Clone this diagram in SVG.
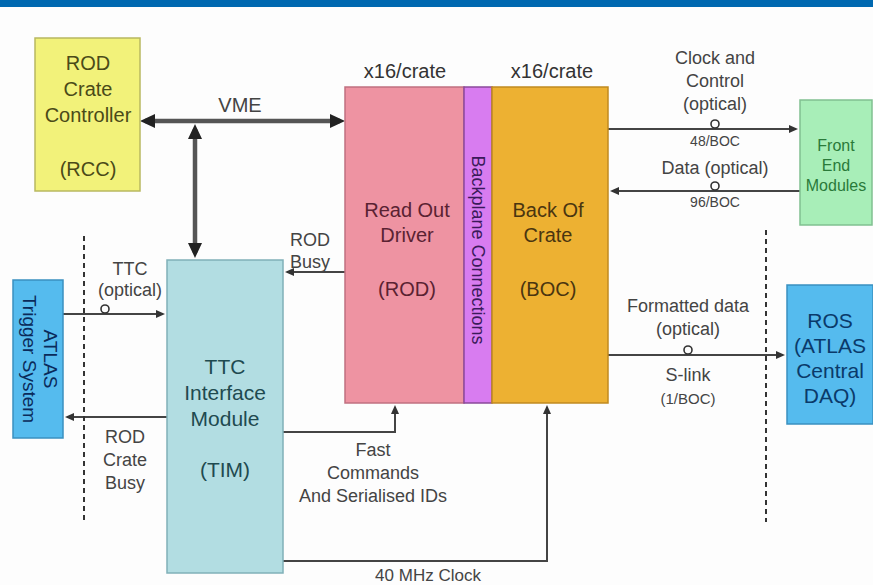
<svg xmlns="http://www.w3.org/2000/svg" width="873" height="585" viewBox="0 0 873 585">
<defs>
<style>
text{font-family:"Liberation Sans",Arial,sans-serif;text-anchor:middle}
.lbl{font-size:18px;fill:#444}
.box{stroke-width:1.5}
.thin{fill:none;stroke:#444;stroke-width:2}
.vme{fill:none;stroke:#555;stroke-width:4.5}
.dash{fill:none;stroke:#333;stroke-width:2;stroke-dasharray:5 4}
.opt{fill:none;stroke:#333;stroke-width:1.6}
</style>
<marker id="sa" markerUnits="userSpaceOnUse" markerWidth="10" markerHeight="8" refX="7" refY="4" orient="auto-start-reverse"><path d="M0,0 L9,4 L0,8 z" fill="#333"/></marker>
<marker id="ba" markerUnits="userSpaceOnUse" markerWidth="16" markerHeight="16" refX="10" refY="8" orient="auto-start-reverse"><path d="M0,1 L15,8 L0,15 z" fill="#222"/></marker>
</defs>
<rect x="0" y="0" width="873" height="585" fill="#fdfdfd"/>
<rect x="0" y="0" width="873" height="7" fill="#0068b0"/>

<g id="connectors">
<line class="vme" x1="145" y1="121" x2="340" y2="121" marker-start="url(#ba)" marker-end="url(#ba)"/>
<line class="vme" x1="195" y1="129" x2="195" y2="253" marker-start="url(#ba)" marker-end="url(#ba)"/>
<line class="thin" x1="608" y1="129" x2="796" y2="129" marker-end="url(#sa)"/>
<line class="thin" x1="800" y1="191" x2="612" y2="191" marker-end="url(#sa)"/>
<line class="thin" x1="608" y1="355" x2="783" y2="355" marker-end="url(#sa)"/>
<line class="thin" x1="63" y1="314" x2="163" y2="314" marker-end="url(#sa)"/>
<line class="thin" x1="167" y1="417" x2="67" y2="417" marker-end="url(#sa)"/>
<line class="thin" x1="345" y1="272" x2="287" y2="272" marker-end="url(#sa)"/>
<polyline class="thin" points="283,432 395,432 395,407" marker-end="url(#sa)"/>
<polyline class="thin" points="283,561 547,561 547,407" marker-end="url(#sa)"/>
<line class="dash" x1="84" y1="236" x2="84" y2="522"/>
<line class="dash" x1="766" y1="230" x2="766" y2="522"/>
<circle class="opt" cx="715" cy="124" r="4"/>
<circle class="opt" cx="715" cy="186" r="4"/>
<circle class="opt" cx="688" cy="350" r="4"/>
<circle class="opt" cx="105" cy="309" r="4"/>
<text class="lbl" x="240" y="112" style="font-size:20px">VME</text>
<text class="lbl" x="715" y="64">Clock and</text>
<text class="lbl" x="715" y="87">Control</text>
<text class="lbl" x="715" y="110">(optical)</text>
<text class="lbl" x="715" y="146" style="font-size:14px">48/BOC</text>
<text class="lbl" x="715" y="174">Data (optical)</text>
<text class="lbl" x="715" y="207" style="font-size:14px">96/BOC</text>
<text class="lbl" x="688" y="312">Formatted data</text>
<text class="lbl" x="688" y="335">(optical)</text>
<text class="lbl" x="688" y="381">S-link</text>
<text class="lbl" x="688" y="404" style="font-size:15px">(1/BOC)</text>
<text class="lbl" x="130" y="275">TTC</text>
<text class="lbl" x="130" y="296">(optical)</text>
<text class="lbl" x="125" y="443">ROD</text>
<text class="lbl" x="125" y="466">Crate</text>
<text class="lbl" x="125" y="489">Busy</text>
<text class="lbl" x="310" y="246">ROD</text>
<text class="lbl" x="310" y="268">Busy</text>
<text class="lbl" x="373" y="456">Fast</text>
<text class="lbl" x="373" y="479">Commands</text>
<text class="lbl" x="373" y="502">And Serialised IDs</text>
<text class="lbl" x="428" y="581" style="font-size:17px">40 MHz Clock</text>
<text class="lbl" x="405" y="78" style="font-size:20px;fill:#333">x16/crate</text>
<text class="lbl" x="552" y="78" style="font-size:20px;fill:#333">x16/crate</text>
</g>

<g id="rcc">
<rect class="box" x="35" y="38" width="105" height="153" fill="#f2f27a" stroke="#b8b860"/>
<g style="font-size:20px;fill:#4a4a18">
<text x="88" y="70">ROD</text>
<text x="88" y="96">Crate</text>
<text x="88" y="122">Controller</text>
<text x="88" y="176">(RCC)</text>
</g>
</g>

<g id="rod">
<rect class="box" x="345" y="87" width="119" height="316" fill="#ee93a2" stroke="#c07080"/>
<g style="font-size:20px;fill:#5a2232">
<text x="407" y="217">Read Out</text>
<text x="407" y="242">Driver</text>
<text x="407" y="296">(ROD)</text>
</g>
</g>

<g id="backplane">
<rect class="box" x="464" y="87" width="28" height="316" fill="#d87cf0" stroke="#8a4a9a"/>
<text transform="translate(478,250) rotate(90)" y="6" style="font-size:18px;fill:#3a1a5a">Backplane Connections</text>
</g>

<g id="boc">
<rect class="box" x="492" y="87" width="116" height="316" fill="#edb132" stroke="#c08a20"/>
<g style="font-size:20px;fill:#4a3510">
<text x="548" y="217">Back Of</text>
<text x="548" y="242">Crate</text>
<text x="548" y="296">(BOC)</text>
</g>
</g>

<g id="fem">
<rect class="box" x="800" y="100" width="72" height="125" fill="#a8eeb8" stroke="#80c090"/>
<g style="font-size:16px;fill:#2a7a3a">
<text x="836" y="151">Front</text>
<text x="836" y="171">End</text>
<text x="836" y="191">Modules</text>
</g>
</g>

<g id="ros">
<rect class="box" x="787" y="285" width="86" height="139" fill="#55bbee" stroke="#3a90c0"/>
<g style="font-size:21px;fill:#0a3a6a">
<text x="830" y="328">ROS</text>
<text x="830" y="353">(ATLAS</text>
<text x="830" y="378">Central</text>
<text x="830" y="403">DAQ)</text>
</g>
</g>

<g id="atlas-trigger">
<rect class="box" x="13" y="280" width="50" height="158" fill="#55bbee" stroke="#3a90c0"/>
<g transform="translate(40,359) rotate(90)" style="font-size:19px;fill:#0a2a5a">
<text x="0" y="-4">ATLAS</text>
<text x="0" y="17">Trigger System</text>
</g>
</g>

<g id="tim">
<rect class="box" x="167" y="260" width="116" height="313" fill="#b2dde2" stroke="#80b0b8"/>
<g style="font-size:21px;fill:#1f4a50">
<text x="225" y="374">TTC</text>
<text x="225" y="400">Interface</text>
<text x="225" y="426">Module</text>
<text x="225" y="477">(TIM)</text>
</g>
</g>
</svg>
